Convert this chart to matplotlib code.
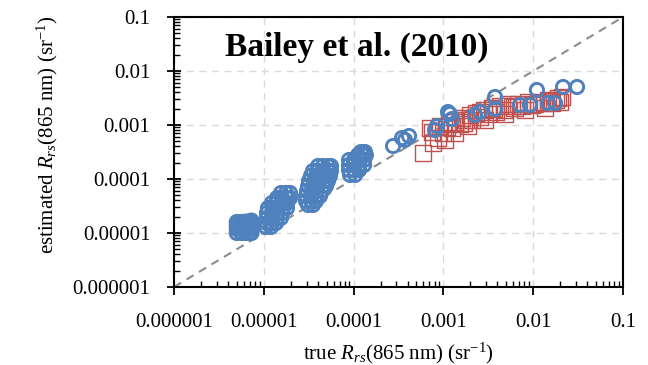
import matplotlib
matplotlib.use("Agg")
import matplotlib.pyplot as plt

plt.rcParams['font.family'] = ['Liberation Serif', 'DejaVu Serif']
plt.rcParams['mathtext.fontset'] = 'custom'
plt.rcParams['mathtext.rm'] = 'Liberation Serif'
plt.rcParams['mathtext.it'] = 'Liberation Serif:italic'

# ---------------- data ----------------
title_text = "Bailey et al. (2010)"
tick_values = [1e-6, 1e-5, 1e-4, 1e-3, 1e-2, 1e-1]
tick_labels = ["0.000001", "0.00001", "0.0001", "0.001", "0.01", "0.1"]

# blue open circles: cluster near 5e-6..7e-6
blue1_x = [5.0e-6, 5.6e-6, 6.2e-6, 6.9e-6, 7.3e-6,
           5.0e-6, 5.6e-6, 6.2e-6, 6.9e-6, 7.3e-6,
           5.0e-6, 5.6e-6, 6.2e-6, 6.9e-6, 7.3e-6,
           5.0e-6, 5.6e-6, 6.2e-6, 6.9e-6, 7.3e-6]
blue1_y = [1.0e-5, 1.0e-5, 1.0e-5, 1.0e-5, 1.0e-5,
           1.2e-5, 1.2e-5, 1.2e-5, 1.2e-5, 1.2e-5,
           1.4e-5, 1.4e-5, 1.4e-5, 1.4e-5, 1.45e-5,
           1.6e-5, 1.6e-5, 1.62e-5, 1.65e-5, 1.7e-5]

# blue cluster near 1e-5..2e-5
blue2_x = [1.554e-5, 1.767e-5, 1.958e-5,
           1.403e-5, 1.595e-5, 1.813e-5, 1.958e-5,
           1.234e-5, 1.403e-5, 1.595e-5, 1.813e-5,
           1.113e-5, 1.266e-5, 1.439e-5, 1.636e-5, 1.813e-5,
           1.085e-5, 1.234e-5, 1.403e-5, 1.595e-5,
           1.085e-5, 1.234e-5, 1.403e-5, 1.554e-5,
           1.085e-5, 1.234e-5, 1.367e-5,
           1.058e-5, 1.203e-5]
blue2_y = [5.51e-5, 5.51e-5, 5.51e-5,
           4.45e-5, 4.45e-5, 4.45e-5, 4.45e-5,
           3.60e-5, 3.60e-5, 3.60e-5, 3.60e-5,
           2.90e-5, 2.90e-5, 2.90e-5, 2.90e-5, 2.90e-5,
           2.35e-5, 2.35e-5, 2.35e-5, 2.35e-5,
           1.90e-5, 1.90e-5, 1.90e-5, 1.90e-5,
           1.53e-5, 1.53e-5, 1.53e-5,
           1.29e-5, 1.29e-5]

# blue cluster near 3e-5..6e-5
blue3_x = [4.02e-5, 4.56e-5, 5.19e-5, 5.60e-5,
           3.53e-5, 4.02e-5, 4.56e-5, 5.19e-5, 5.60e-5,
           3.35e-5, 3.81e-5, 4.34e-5, 4.93e-5, 5.46e-5,
           3.19e-5, 3.62e-5, 4.12e-5, 4.68e-5, 5.19e-5,
           3.11e-5, 3.53e-5, 4.02e-5, 4.56e-5, 4.93e-5,
           3.03e-5, 3.44e-5, 3.91e-5, 4.45e-5,
           2.95e-5, 3.35e-5, 3.81e-5, 4.23e-5,
           2.95e-5, 3.35e-5, 3.81e-5,
           3.11e-5, 3.53e-5]
blue3_y = [1.74e-4, 1.74e-4, 1.74e-4, 1.74e-4,
           1.41e-4, 1.41e-4, 1.41e-4, 1.41e-4, 1.41e-4,
           1.14e-4, 1.14e-4, 1.14e-4, 1.14e-4, 1.14e-4,
           9.19e-5, 9.19e-5, 9.19e-5, 9.19e-5, 9.19e-5,
           7.42e-5, 7.42e-5, 7.42e-5, 7.42e-5, 7.42e-5,
           6.00e-5, 6.00e-5, 6.00e-5, 6.00e-5,
           4.84e-5, 4.84e-5, 4.84e-5, 4.84e-5,
           3.92e-5, 3.92e-5, 3.92e-5,
           3.30e-5, 3.30e-5]

# blue cluster near 9e-5..1.4e-4
blue4_x = [1.21e-4, 1.34e-4,
           1.12e-4, 1.27e-4, 1.37e-4,
           8.89e-5, 1.01e-4, 1.15e-4, 1.31e-4,
           8.89e-5, 1.01e-4, 1.15e-4, 1.31e-4,
           8.89e-5, 1.01e-4, 1.15e-4,
           9.12e-5, 1.04e-4]
blue4_y = [3.16e-4, 3.16e-4,
           2.78e-4, 2.78e-4, 2.78e-4,
           2.25e-4, 2.25e-4, 2.25e-4, 2.25e-4,
           1.82e-4, 1.82e-4, 1.82e-4, 1.82e-4,
           1.47e-4, 1.47e-4, 1.47e-4,
           1.19e-4, 1.19e-4]

# scattered blue open circles
blue5_x = [2.75e-4, 3.46e-4, 3.73e-4, 4.14e-4, 8.49e-4, 8.06e-4, 1.125e-3, 1.25e-3,
           1.18e-3, 2.56e-3, 3.76e-3, 3.76e-3, 7.13e-3, 9.2e-3, 1.10e-2, 1.46e-2,
           1.75e-2, 2.15e-2, 3.08e-2, 2.25e-3]
blue5_y = [4.08e-4, 5.74e-4, 5.28e-4, 6.26e-4, 9.58e-4, 8.07e-4, 1.74e-3, 1.29e-3,
           1.60e-3, 1.74e-3, 1.98e-3, 3.30e-3, 2.35e-3, 2.35e-3, 4.45e-3, 2.55e-3,
           2.55e-3, 5.06e-3, 5.06e-3, 1.53e-3]

# red open squares
red_x = [5.93e-4, 7.66e-4, 7.46e-4, 8.71e-4, 9.90e-4, 1.10e-3, 1.25e-3, 1.35e-3,
         1.53e-3, 1.61e-3, 1.79e-3, 1.98e-3, 2.08e-3, 2.31e-3, 2.56e-3, 2.83e-3,
         3.14e-3, 3.48e-3, 3.85e-3, 4.27e-3, 4.73e-3, 5.24e-3, 5.81e-3, 6.78e-3,
         7.50e-3, 8.75e-3, 9.70e-3, 1.13e-2, 1.32e-2, 1.46e-2, 1.62e-2, 1.79e-2,
         1.99e-2, 9.16e-4, 1.04e-3, 1.35e-3, 1.88e-3, 2.91e-3, 4.85e-3, 8.11e-3,
         1.35e-2, 1.89e-2, 2.09e-2, 7.09e-4, 1.15e-3, 1.70e-3, 2.60e-3, 3.60e-3,
         6.20e-3, 1.05e-2, 1.55e-2]
red_y = [3.03e-4, 4.64e-4, 7.41e-4, 5.74e-4, 7.11e-4, 9.18e-4, 8.80e-4, 1.14e-3,
         1.04e-3, 1.35e-3, 1.24e-3, 1.53e-3, 1.24e-3, 1.67e-3, 1.41e-3, 1.90e-3,
         1.60e-3, 2.07e-3, 1.74e-3, 2.25e-3, 1.90e-3, 2.45e-3, 2.25e-3, 2.45e-3,
         2.25e-3, 2.67e-3, 2.35e-3, 2.67e-3, 2.55e-3, 2.90e-3, 2.55e-3, 2.90e-3,
         2.67e-3, 9.58e-4, 5.28e-4, 7.11e-4, 9.58e-4, 1.24e-3, 1.60e-3, 1.90e-3,
         2.07e-3, 3.16e-3, 3.30e-3, 8.80e-4, 1.10e-3, 1.10e-3, 1.75e-3, 2.00e-3,
         2.10e-3, 2.45e-3, 2.80e-3]

# ---------------- figure ----------------
fig = plt.figure(figsize=(6.48, 3.65), dpi=100)
ax = fig.add_axes([174/648, 1-287/365, 449/648, 270/365])

ax.set_xscale('log')
ax.set_yscale('log')
ax.set_xlim(1e-6, 1e-1)
ax.set_ylim(1e-6, 1e-1)

ax.grid(True, which='major', color='#D9D9D9', linestyle=(0, (5, 4)), linewidth=1.0, zorder=0)
ax.plot([1e-6, 1e-1], [1e-6, 1e-1], color='#8C8C8C', linestyle=(0, (4, 3)),
        linewidth=1.5, zorder=1)

ax.scatter(red_x, red_y, marker='s', s=12**2, facecolors='none',
           edgecolors='#C0504D', linewidths=1.0, zorder=2)
for bx, by in [(blue1_x, blue1_y), (blue2_x, blue2_y), (blue3_x, blue3_y),
               (blue4_x, blue4_y), (blue5_x, blue5_y)]:
    ax.scatter(bx, by, marker='o', s=9.5**2, facecolors='none',
               edgecolors='#4F81BD', linewidths=2.1, zorder=3)

ax.set_xticks(tick_values)
ax.set_xticklabels(tick_labels)
ax.set_yticks(tick_values)
ax.set_yticklabels(tick_labels)

for s in ax.spines.values():
    s.set_linewidth(1.5)
    s.set_color('black')

ax.tick_params(axis='x', which='major', direction='out', length=6, width=1.3,
               labelsize=15, pad=13)
ax.tick_params(axis='y', which='major', direction='inout', length=10, width=1.3,
               labelsize=15, pad=12)
ax.tick_params(axis='both', which='minor', direction='in', length=4, width=1.0)
ax.tick_params(which='both', top=False, right=False)

ax.set_xlabel(r"true $\mathit{R}_{\mathit{rs}}$(865 nm) (sr$^{-1}$)", fontsize=15, labelpad=6)
fig.text(47/648, 1-135/365, r"estimated $\mathit{R}_{\mathit{rs}}$(865 nm) (sr$^{-1}$)",
         fontsize=15, rotation=90, ha='center', va='center')

ax.text(0.114, 0.856, title_text, transform=ax.transAxes, fontsize=24,
        fontweight='bold', ha='left', va='baseline', zorder=5)

fig.savefig("out.png", dpi=100)
